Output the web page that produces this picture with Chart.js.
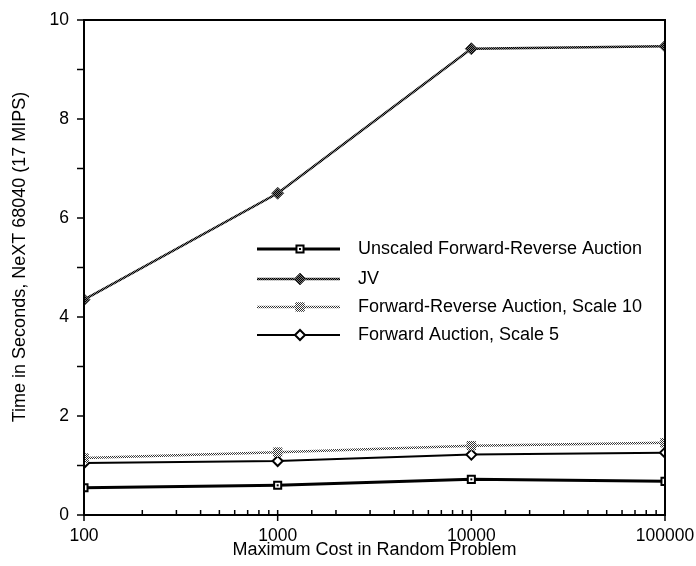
<!DOCTYPE html>
<html>
<head>
<meta charset="utf-8">
<script src="https://cdn.jsdelivr.net/npm/chart.js@4"></script>
<style>
  body { margin: 0; background: #fff; }
  canvas { display: block; }
</style>
</head>
<body>
<canvas id="chart" width="696" height="566"></canvas>
<script>
// values
const costs = [100, 1000, 10000, 100000];
const unscaledFR = [0.55, 0.60, 0.72, 0.68];
const jv = [4.35, 6.50, 9.42, 9.47];
const frScale10 = [1.15, 1.27, 1.40, 1.46];
const faScale5 = [1.05, 1.09, 1.22, 1.26];
const seriesNames = [
    "Unscaled Forward-Reverse Auction",
    "JV",
    "Forward-Reverse Auction, Scale 10",
    "Forward Auction, Scale 5"
];
const yTitle = "Time in Seconds, NeXT 68040 (17 MIPS)";
const xTitle = "Maximum Cost in Random Problem";

const canvas = document.getElementById("chart");
const ctx = canvas.getContext("2d");
const FONT = '"Liberation Sans", Arial, Helvetica, sans-serif';

// small checker patterns to imitate the halftone lines
function checker(dark, light) {
    const c = document.createElement("canvas");
    c.width = 2;
    c.height = 2;
    const g = c.getContext("2d");
    g.fillStyle = light;
    g.fillRect(0, 0, 2, 2);
    g.fillStyle = dark;
    g.fillRect(0, 0, 1, 1);
    g.fillRect(1, 1, 1, 1);
    return ctx.createPattern(c, "repeat");
}
const darkHatch = checker("#000", "#777");
const lightHatch = checker("#333", "#fff");

const toPoints = (vals) => vals.map((v, i) => ({ x: costs[i], y: v }));

Chart.defaults.font.family = FONT;
Chart.defaults.color = "#000";

const legendRows = [249, 279, 307, 335];

const framePlugin = {
    id: "frame",
    afterDatasetsDraw(chart) {
        const { ctx, chartArea: a, scales } = chart;
        ctx.save();
        ctx.strokeStyle = "#000";
        ctx.lineWidth = 2;
        ctx.strokeRect(a.left, a.top, a.right - a.left, a.bottom - a.top);

        // y ticks, outward
        ctx.lineWidth = 1.5;
        scales.y.ticks.forEach((t) => {
            const py = scales.y.getPixelForValue(t.value);
            ctx.beginPath();
            ctx.moveTo(a.left - 7, py);
            ctx.lineTo(a.left, py);
            ctx.stroke();
        });
        // x ticks, minor inward, decades cross the axis
        scales.x.ticks.forEach((t) => {
            const px = scales.x.getPixelForValue(t.value);
            const major = Math.abs(Math.log10(t.value) % 1) < 1e-9;
            ctx.beginPath();
            ctx.moveTo(px, a.bottom - 5);
            ctx.lineTo(px, a.bottom + (major ? 6 : 0));
            ctx.stroke();
        });

        // centre dots in the square markers
        const meta = chart.getDatasetMeta(0);
        ctx.fillStyle = "#000";
        meta.data.forEach((p) => ctx.fillRect(p.x - 1, p.y - 1, 2, 2));
        ctx.restore();
    },
    afterDraw(chart) {
        const { ctx } = chart;
        ctx.save();
        // y axis title
        ctx.save();
        ctx.translate(20, 257);
        ctx.rotate(-Math.PI / 2);
        ctx.fillStyle = "#000";
        ctx.font = "18px " + FONT;
        ctx.textAlign = "center";
        ctx.textBaseline = "middle";
        ctx.fillText(yTitle, 0, 0);
        ctx.restore();

        // legend inside the plot
        chart.data.datasets.forEach((ds, i) => {
            const y = legendRows[i];
            ctx.strokeStyle = ds.borderColor;
            ctx.lineWidth = ds.borderWidth;
            ctx.beginPath();
            ctx.moveTo(257, y);
            ctx.lineTo(340, y);
            ctx.stroke();
            ctx.fillStyle = ds.pointBackgroundColor;
            ctx.strokeStyle = ds.pointBorderColor;
            ctx.lineWidth = ds.pointBorderWidth;
            Chart.helpers.drawPoint(ctx, {
                pointStyle: ds.pointStyle,
                radius: ds.pointRadius,
                borderWidth: ds.pointBorderWidth,
                rotation: 0
            }, 300, y);
            if (i === 0) {
                ctx.fillStyle = "#000";
                ctx.fillRect(299, y - 1, 2, 2);
            }
            ctx.fillStyle = "#000";
            ctx.font = "18px " + FONT;
            ctx.textBaseline = "middle";
            ctx.fillText(ds.label, 358, y);
        });
        ctx.restore();
    }
};

new Chart(ctx, {
    type: "line",
    data: {
        datasets: [
            {
                label: seriesNames[0],
                data: toPoints(unscaledFR),
                borderColor: "#000",
                borderWidth: 3,
                pointStyle: "rect",
                pointRadius: 5,
                pointBackgroundColor: "#fff",
                pointBorderColor: "#000",
                pointBorderWidth: 2
            },
            {
                label: seriesNames[1],
                data: toPoints(jv),
                borderColor: darkHatch,
                borderWidth: 2.5,
                pointStyle: "rectRot",
                pointRadius: 6,
                pointBackgroundColor: darkHatch,
                pointBorderColor: "#444",
                pointBorderWidth: 1
            },
            {
                label: seriesNames[2],
                data: toPoints(frScale10),
                borderColor: lightHatch,
                borderWidth: 2.5,
                pointStyle: "rect",
                pointRadius: 6,
                pointBackgroundColor: lightHatch,
                pointBorderColor: lightHatch,
                pointBorderWidth: 1
            },
            {
                label: seriesNames[3],
                data: toPoints(faScale5),
                borderColor: "#000",
                borderWidth: 2,
                pointStyle: "rectRot",
                pointRadius: 5,
                pointBackgroundColor: "#fff",
                pointBorderColor: "#000",
                pointBorderWidth: 2
            }
        ]
    },
    options: {
        responsive: false,
        animation: false,
        layout: { padding: { top: 20, right: 31, left: 0, bottom: 0 } },
        plugins: {
            legend: { display: false },
            tooltip: { enabled: false }
        },
        elements: { line: { tension: 0 } },
        scales: {
            x: {
                type: "logarithmic",
                min: 100,
                max: 100000,
                grid: { display: false, drawTicks: false },
                border: { display: false },
                ticks: {
                    autoSkip: false,
                    maxRotation: 0,
                    padding: 11,
                    font: { size: 17.5 },
                    callback: (v) => (Math.abs(Math.log10(v) % 1) < 1e-9 ? String(v) : "")
                },
                title: {
                    display: true,
                    text: xTitle,
                    font: { size: 18 },
                    padding: { top: 0, bottom: 5 }
                },
                afterFit: (s) => {
                    s.height = 51;
                    s.paddingLeft = 0;
                    s.paddingRight = 0;
                }
            },
            y: {
                min: 0,
                max: 10,
                grid: { display: false, drawTicks: false },
                border: { display: false },
                ticks: {
                    stepSize: 1,
                    padding: 15,
                    font: { size: 17.5 },
                    callback: (v) => (v % 2 === 0 ? String(v) : "")
                },
                title: { display: false },
                afterFit: (s) => {
                    s.width = 84;
                    s.paddingTop = 0;
                    s.paddingBottom = 0;
                }
            }
        }
    },
    plugins: [framePlugin]
});
</script>
</body>
</html>
